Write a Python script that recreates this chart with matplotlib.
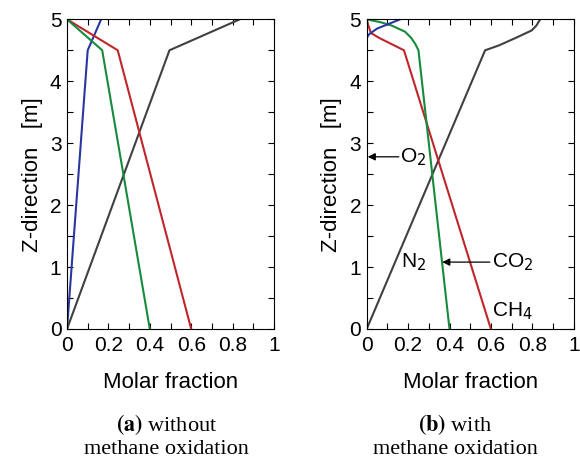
import matplotlib
matplotlib.use("Agg")
import matplotlib.pyplot as plt
from matplotlib.ticker import MultipleLocator

# ---- data ----
# (a) without methane oxidation
z_a = [0.0, 4.5, 5.0]
o2_a = [0.0, 0.10, 0.165]
co2_a = [0.40, 0.17, 0.0]
ch4_a = [0.60, 0.245, 0.0]
n2_a = [0.0, 0.495, 0.835]

# (b) with methane oxidation
z_o2_b = [0.0, 4.70, 4.76, 4.85, 5.0]
o2_b = [0.0, 0.0, 0.012, 0.05, 0.162]
z_co2_b = [0.0, 4.5, 4.6, 4.7, 4.8, 4.9, 4.95, 5.0]
co2_b = [0.40, 0.25, 0.235, 0.215, 0.185, 0.12, 0.07, 0.0]
z_ch4_b = [0.0, 4.5, 4.6, 4.7, 4.78, 4.9, 5.0]
ch4_b = [0.60, 0.18, 0.12, 0.06, 0.02, 0.008, 0.0]
z_n2_b = [0.0, 4.5, 4.58, 4.7, 4.82, 4.9, 5.0]
n2_b = [0.0, 0.572, 0.64, 0.72, 0.797, 0.82, 0.838]

xticks = [0, 0.2, 0.4, 0.6, 0.8, 1]
xticklabels = ["0", "0.2", "0.4", "0.6", "0.8", "1"]
yticks = [0, 1, 2, 3, 4, 5]

xlabel = "Molar fraction"
ylabel = "Z-direction   [m]"

C_O2 = "#2838a0"
C_CO2 = "#178a3c"
C_CH4 = "#c0252a"
C_N2 = "#404040"

plt.rcParams['font.family'] = ['Liberation Sans', 'DejaVu Sans']

fig = plt.figure(figsize=(5.8, 4.61), dpi=100)
W, H = 580, 461
axL = fig.add_axes([67/W, 1-329/H, 207/W, 309.7/H])
axR = fig.add_axes([366.7/W, 1-329/H, 207/W, 309.7/H])

lw = 1.5
axL.plot(o2_a, z_a, color=C_O2, lw=lw)
axL.plot(n2_a, z_a, color=C_N2, lw=lw)
axL.plot(ch4_a, z_a, color=C_CH4, lw=lw)
axL.plot(co2_a, z_a, color=C_CO2, lw=lw)

axR.plot(n2_b, z_n2_b, color=C_N2, lw=lw)
axR.plot(ch4_b, z_ch4_b, color=C_CH4, lw=lw)
axR.plot(co2_b, z_co2_b, color=C_CO2, lw=lw)
axR.plot(o2_b, z_o2_b, color=C_O2, lw=lw)

for ax in (axL, axR):
    ax.set_xlim(0, 1)
    ax.set_ylim(0, 5)
    ax.set_xticks(xticks)
    ax.set_xticklabels(xticklabels)
    ax.set_yticks(yticks)
    ax.xaxis.set_minor_locator(MultipleLocator(0.1))
    ax.yaxis.set_minor_locator(MultipleLocator(0.5))
    ax.tick_params(which='both', direction='in', top=True, right=True,
                   length=4, width=0.8, labelsize=15)
    ax.tick_params(axis='x', pad=5)
    ax.tick_params(axis='y', pad=4)
    ax.set_xlabel(xlabel, fontsize=16, labelpad=12)
    ax.set_ylabel(ylabel, fontsize=16, labelpad=5)
    for s in ax.spines.values():
        s.set_linewidth(0.8)

# annotations on (b)
arrow = dict(arrowstyle="-|>", color="black", lw=0.9, mutation_scale=11,
             shrinkA=0, shrinkB=0)
axR.annotate("", xy=(0.005, 2.78), xytext=(0.155, 2.78), arrowprops=arrow)
axR.text(0.163, 2.78, "O$_2$", fontsize=15, va='center', ha='left')
axR.annotate("", xy=(0.365, 1.08), xytext=(0.595, 1.08), arrowprops=arrow)
axR.text(0.603, 1.08, "CO$_2$", fontsize=15, va='center', ha='left')
axR.text(0.165, 1.08, "N$_2$", fontsize=15, va='center', ha='left')
axR.text(0.603, 0.28, "CH$_4$", fontsize=15, va='center', ha='left')

# captions
serif = ['Liberation Serif', 'DejaVu Serif']
for cx, tag, rest in [(166.5, "(a)", " without"), (455, "(b)", " with")]:
    fig.text(cx/W, 1-431.5/H, r"$\mathbf{" + tag + "}$" + rest,
             fontsize=16, family=serif, ha='center', va='baseline',
             math_fontfamily='stix')
    fig.text(cx/W, 1-454/H, "methane oxidation", fontsize=16, family=serif,
             ha='center', va='baseline')

fig.savefig("out.png", dpi=100)
